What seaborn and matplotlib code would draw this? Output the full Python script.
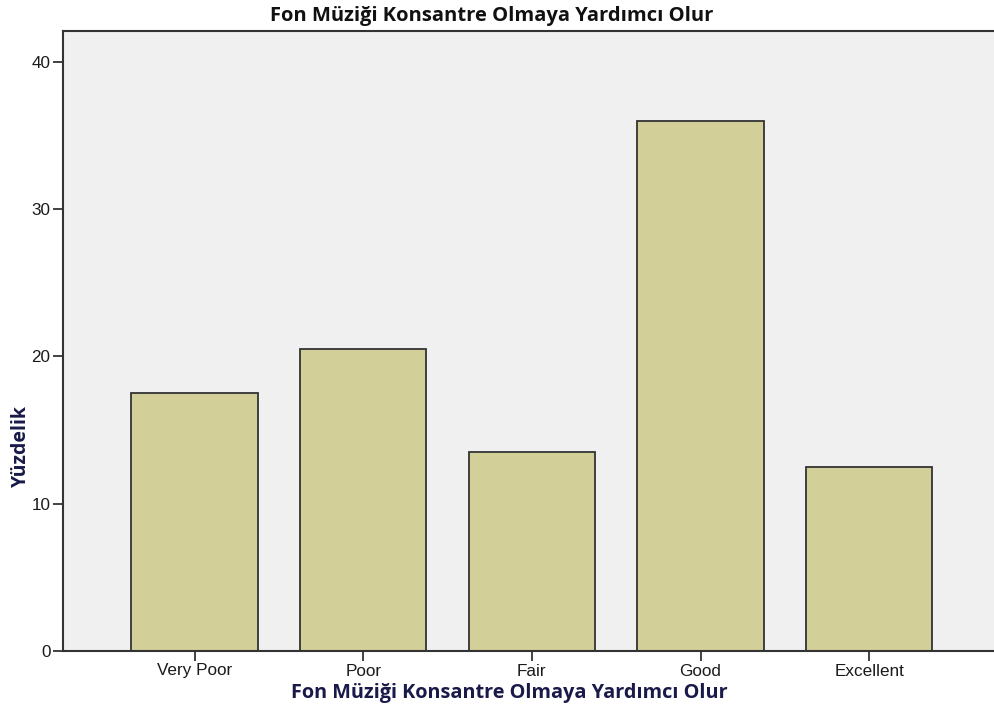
import matplotlib
matplotlib.use("Agg")
import matplotlib.pyplot as plt
import seaborn as sns
import pandas as pd

categories = ["Very Poor", "Poor", "Fair", "Good", "Excellent"]
percentages = [17.5, 20.5, 13.5, 36.0, 12.5]
y_ticks = [0, 10, 20, 30, 40]

title_text = "Fon Müziği Konsantre Olmaya Yardımcı Olur"
x_label = "Fon Müziği Konsantre Olmaya Yardımcı Olur"
y_label = "Yüzdelik"

df = pd.DataFrame({"category": categories, "percent": percentages})

sns.set_theme(style="white")
plt.rcParams["font.family"] = ["Liberation Sans", "DejaVu Sans"]

fig = plt.figure(figsize=(9.94, 7.09), dpi=100)
ax = fig.add_axes([63 / 994, 58 / 709, 1 - 63 / 994, 620 / 709])
ax.set_facecolor("#f0f0f0")

sns.barplot(data=df, x="category", y="percent", order=categories,
            color="#d3cf98", saturation=1, width=0.75,
            edgecolor="#333333", linewidth=1.3, ax=ax)

ax.set_xlim(-0.78, 4.74)
ax.set_ylim(0, 42.1)
ax.set_yticks(y_ticks)
ax.set_yticklabels([str(t) for t in y_ticks])

for side in ["left", "bottom", "top"]:
    ax.spines[side].set_color("#333333")
    ax.spines[side].set_linewidth(1.5)
ax.spines["right"].set_visible(False)

ax.tick_params(axis="both", which="both", direction="out", length=7.5,
               width=1.3, color="#333333", labelsize=12.3, labelcolor="#1a1a1a",
               left=True, bottom=True, pad=1.5)

ax.set_xlabel(x_label, fontsize=14.3, fontweight="bold", color="#1a1a4a",
              family=["Open Sans", "DejaVu Sans"])
ax.xaxis.set_label_coords(0.479, -0.052)
ax.set_ylabel(y_label, fontsize=14, fontweight="bold", color="#1a1a4a",
              family=["Open Sans", "DejaVu Sans"])
ax.yaxis.set_label_coords(-0.034, 0.33)

fig.text(492 / 994, 1 - 16 / 709, title_text, ha="center", va="center",
         fontsize=14.5, fontweight="bold", color="#111111",
         family=["Open Sans", "DejaVu Sans"])

fig.savefig("out.png", dpi=100)
